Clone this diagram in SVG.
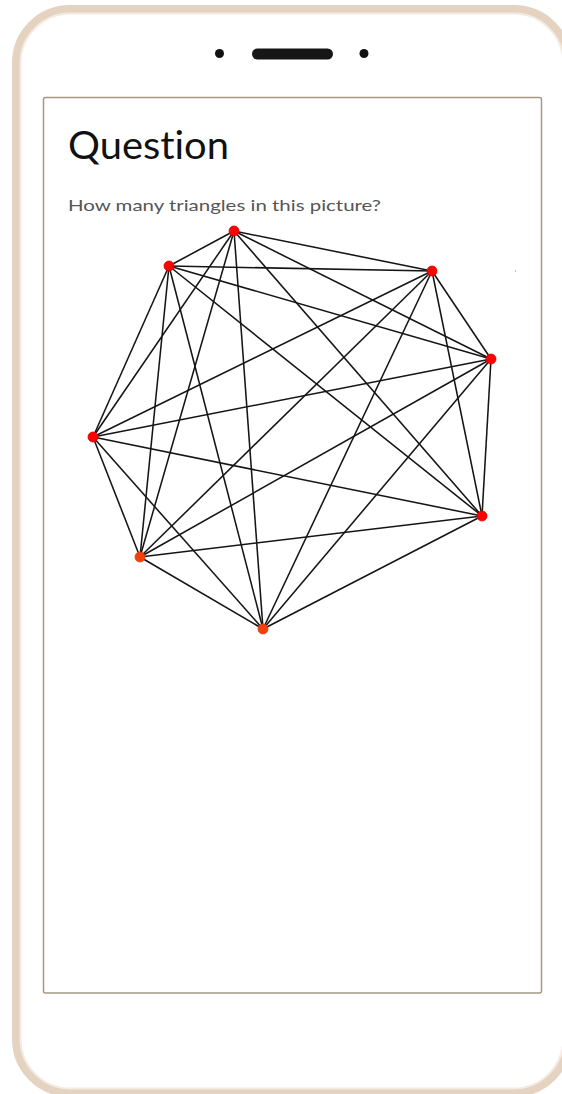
<svg xmlns="http://www.w3.org/2000/svg" width="562" height="1094" viewBox="0 0 562 1094">
  <defs>
    <style>
      .edge { stroke: #151515; stroke-width: 1.55; fill: none; }
      .node { fill: #ff0000; stroke: #e00000; stroke-width: 0.8; }
      .node-alt { fill: #f2400c; stroke: #e03a08; stroke-width: 0.8; }
      .title { font-family: "Lato", "Open Sans", "Liberation Sans", sans-serif; font-size: 38px; fill: #111; font-variant-ligatures: none; font-feature-settings: "liga" 0, "dlig" 0; }
      .sub { font-family: "Lato", "Open Sans", "Liberation Sans", sans-serif; font-size: 15px; fill: #555; font-variant-ligatures: none; }
    </style>
  </defs>
  <rect width="562" height="1094" fill="#ffffff"/>
  <g id="phone">
    <rect x="16" y="9" width="552" height="1084" rx="54" fill="#ffffff" stroke="#e4d3c0" stroke-width="8"/>
    <rect x="20.5" y="13.5" width="543" height="1075" rx="50" fill="none" stroke="#f3ebe2" stroke-width="2"/>
    <circle cx="219.5" cy="53.5" r="4.5" fill="#111"/>
    <rect x="252" y="48.5" width="81" height="11" rx="5.5" fill="#161616"/>
    <circle cx="364" cy="53.5" r="4.5" fill="#111"/>
  </g>
  <g id="screen">
    <rect x="43.5" y="97.5" width="498" height="895.5" rx="2" fill="#ffffff" stroke="#a69782" stroke-width="1.5"/>
  </g>
  <g id="texts">
    <text class="title" x="68" y="159" textLength="161" lengthAdjust="spacingAndGlyphs">Question</text>
    <text class="sub" x="68" y="211" textLength="313" lengthAdjust="spacingAndGlyphs">How many triangles in this picture?</text>
  </g>
  <rect x="515" y="270" width="1" height="2" fill="#bbbbbb"/>
  <g id="connectors">
    <line class="edge" x1="234" y1="231" x2="169" y2="266"/>
    <line class="edge" x1="234" y1="231" x2="432" y2="271"/>
    <line class="edge" x1="234" y1="231" x2="491" y2="359"/>
    <line class="edge" x1="234" y1="231" x2="93" y2="437"/>
    <line class="edge" x1="234" y1="231" x2="482" y2="516"/>
    <line class="edge" x1="234" y1="231" x2="140" y2="557"/>
    <line class="edge" x1="234" y1="231" x2="263" y2="629"/>
    <line class="edge" x1="169" y1="266" x2="432" y2="271"/>
    <line class="edge" x1="169" y1="266" x2="491" y2="359"/>
    <line class="edge" x1="169" y1="266" x2="93" y2="437"/>
    <line class="edge" x1="169" y1="266" x2="482" y2="516"/>
    <line class="edge" x1="169" y1="266" x2="140" y2="557"/>
    <line class="edge" x1="169" y1="266" x2="263" y2="629"/>
    <line class="edge" x1="432" y1="271" x2="491" y2="359"/>
    <line class="edge" x1="432" y1="271" x2="93" y2="437"/>
    <line class="edge" x1="432" y1="271" x2="482" y2="516"/>
    <line class="edge" x1="432" y1="271" x2="140" y2="557"/>
    <line class="edge" x1="432" y1="271" x2="263" y2="629"/>
    <line class="edge" x1="491" y1="359" x2="93" y2="437"/>
    <line class="edge" x1="491" y1="359" x2="482" y2="516"/>
    <line class="edge" x1="491" y1="359" x2="140" y2="557"/>
    <line class="edge" x1="491" y1="359" x2="263" y2="629"/>
    <line class="edge" x1="93" y1="437" x2="482" y2="516"/>
    <line class="edge" x1="93" y1="437" x2="140" y2="557"/>
    <line class="edge" x1="93" y1="437" x2="263" y2="629"/>
    <line class="edge" x1="482" y1="516" x2="140" y2="557"/>
    <line class="edge" x1="482" y1="516" x2="263" y2="629"/>
    <line class="edge" x1="140" y1="557" x2="263" y2="629"/>
  </g>
  <g id="node-A"><circle class="node" cx="234" cy="231" r="5"/></g>
  <g id="node-B"><circle class="node" cx="169" cy="266" r="5"/></g>
  <g id="node-C"><circle class="node" cx="432" cy="271" r="5"/></g>
  <g id="node-D"><circle class="node" cx="491" cy="359" r="5"/></g>
  <g id="node-E"><circle class="node" cx="93" cy="437" r="5"/></g>
  <g id="node-F"><circle class="node" cx="482" cy="516" r="5"/></g>
  <g id="node-G"><circle class="node-alt" cx="140" cy="557" r="5"/></g>
  <g id="node-H"><circle class="node-alt" cx="263" cy="629" r="5"/></g>
</svg>
